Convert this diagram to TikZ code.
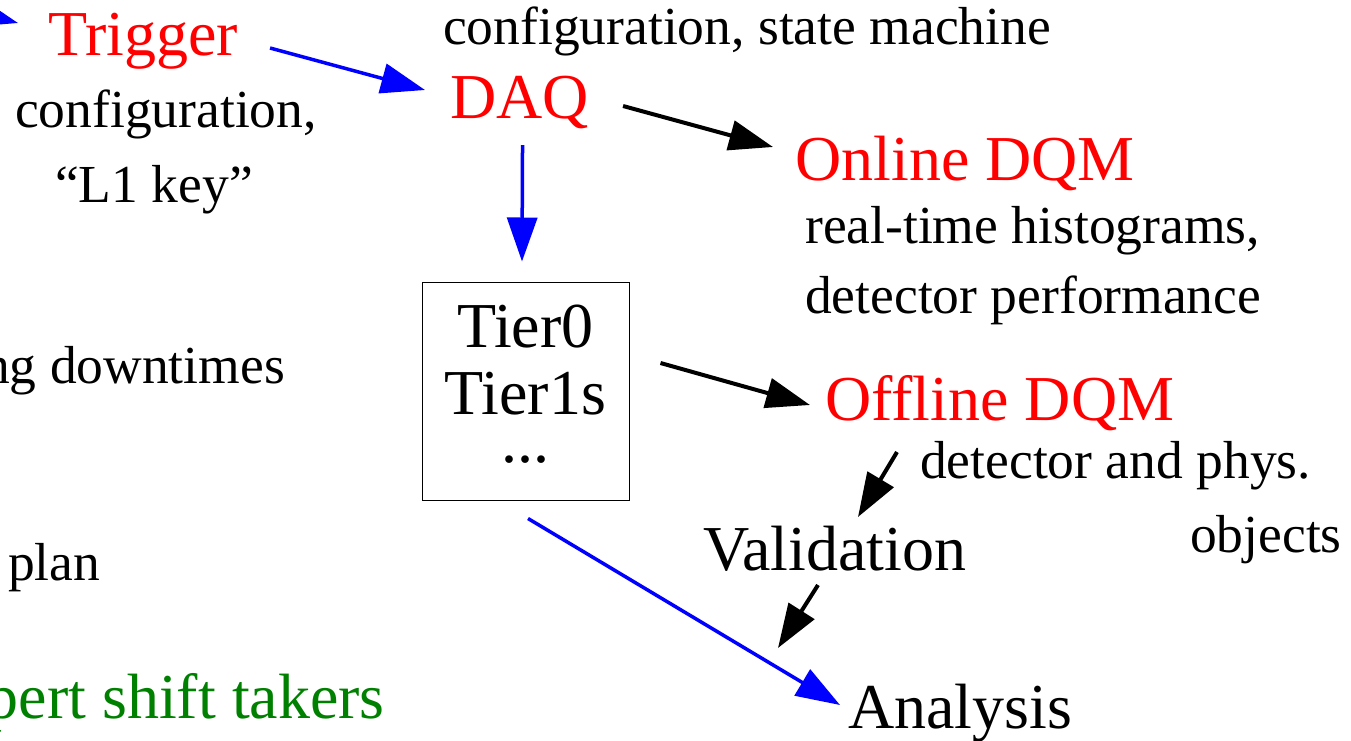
\documentclass[tikz,border=0pt]{standalone}
\usepackage{fontspec}
\setmainfont{Liberation Serif}
\usepackage{tikz}
\usetikzlibrary{arrows.meta,calc}
\definecolor{shiftgreen}{rgb}{0,0.5,0}
\newcommand\bigtxt{\fontsize{64}{67}\selectfont}
\newcommand\smalltxt{\fontsize{53.5}{64}\selectfont}

\begin{document}
\begin{tikzpicture}[x=1pt, y=-1pt,
    title/.style={inner sep=0pt, anchor=base west, font=\bigtxt},
    note/.style={inner sep=0pt, anchor=base west, font=\smalltxt},
    bluearr/.style={blue, line width=3.5pt, -{Triangle[length=44pt,width=30pt]}},
    blackarr/.style={black, line width=4pt, -{Triangle[length=44pt,width=30pt]}}]
    \useasboundingbox (0,0) rectangle (1351,740);
    \clip (0,0) rectangle (1351,740);

    \node (trigger) [title, red] at (48,55) {Trigger};
    \node (trigcfg) [note] at (15,127) {configuration,};
    \node (l1key) [note] at (55,202) {“L1 key”};
    \node (daqcfg) [note] at (443,44) {configuration, state machine};
    \node (daq) [title, red] at (450,118) {DAQ};
    \node (online) [title, red] at (795,180) {Online DQM};
    \node (onlinea) [note] at (805,243) {real-time histograms,};
    \node (onlineb) [note] at (805,313) {detector performance};
    \node (tier) [draw, line width=1pt, inner sep=0pt, minimum width=207pt, minimum height=218pt, align=center, font=\bigtxt] at (525.5,391)
        {Tier0\\Tier1s\\[-19pt]...\rule[-15pt]{0pt}{15pt}};
    \node (offline) [title, red] at (825,420) {Offline DQM};
    \node (offlinea) [note] at (920,478) {detector and phys.};
    \node (offlineb) [note] at (1190,552) {objects};
    \node (valid) [title] at (703,570) {Validation};
    \node (analysis) [title] at (848,728) {Analysis};
    \node (downtimes) [note, anchor=base east] at (285,383) {ng downtimes};
    \node (plan) [note] at (8,580) {plan};
    \node (shifters) [title, shiftgreen, anchor=base east] at (385,718) {pert shift takers};

    \coordinate (trigin) at (-100,-8);
    \draw [bluearr] (trigin) -- ($(trigger.base west)+(-30,-32)$);
    \draw [bluearr] ($(trigger.base east)+(32,-7)$) -- ($(daq.base west)+(-25,-28)$);
    \draw [blackarr] ($(daq.base east)+(34,-12)$) -- ($(online.base west)+(-22,-33)$);
    \draw [bluearr] ($(daq.base)+(3,27)$) -- ($(tier.north)+(-3.5,-20)$);
    \draw [blackarr] ($(tier.east)+(31,-28)$) -- ($(offline.base west)+(-15,-15)$);
    \draw [blackarr] ($(offline.base west)+(72,32)$) -- ($(valid.base west)+(155,-53)$);
    \draw [blackarr] ($(valid.base west)+(115,15)$) -- ($(analysis.base west)+(-70,-80)$);
    \draw [bluearr] ($(tier.south)+(2.5,18)$) -- ($(analysis.base west)+(-8,-23)$);
\end{tikzpicture}
\end{document}
